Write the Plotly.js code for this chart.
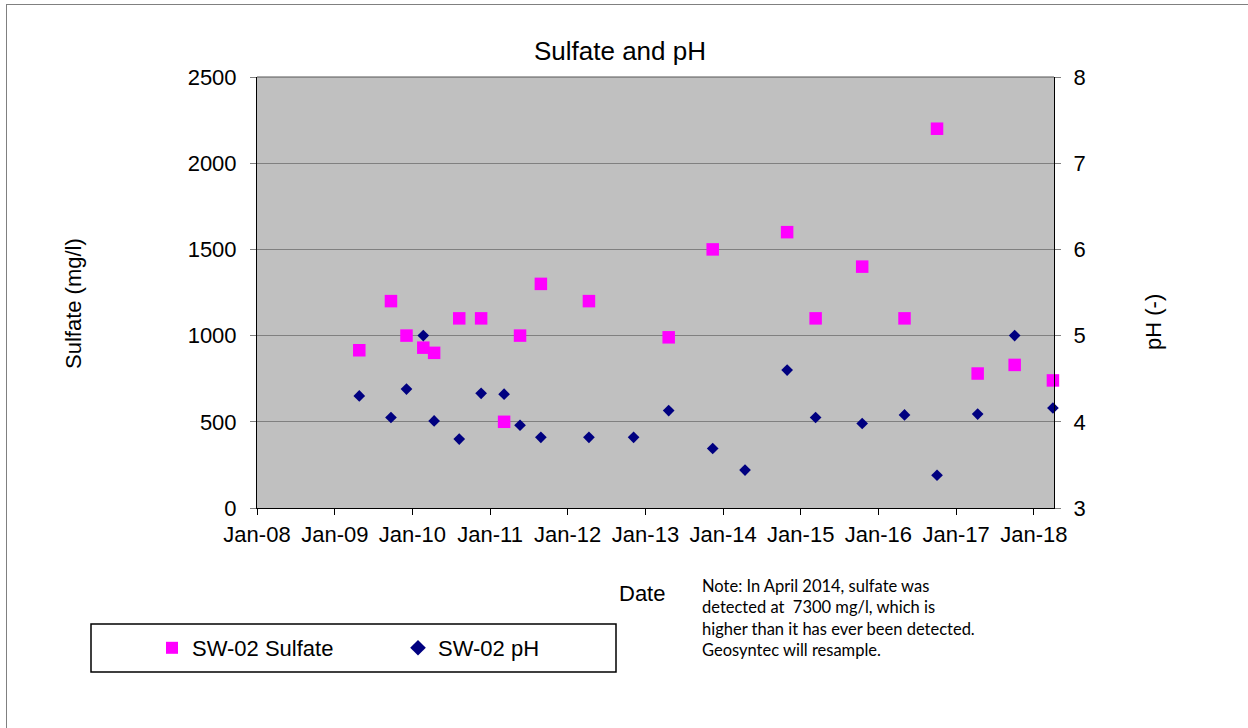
<!DOCTYPE html>
<html>
<head>
<meta charset="utf-8">
<script src="https://cdn.plot.ly/plotly-3.0.1.min.js"></script>
<style>
html, body { margin: 0; padding: 0; background: #ffffff; }
#chart { width: 1248px; height: 728px; }
</style>
</head>
<body>
<div id="chart"></div>
<script>
// Sulfate (mg/l) samples
const sulfateDates = [
  '2009-04-26', '2009-09-22', '2009-12-04', '2010-02-21', '2010-04-13',
  '2010-08-09', '2010-11-20', '2011-03-08', '2011-05-22', '2011-08-28',
  '2012-04-10', '2013-04-20', '2013-11-13', '2014-10-29', '2015-03-12',
  '2015-10-17', '2016-05-03', '2016-10-03', '2017-04-12', '2017-10-03',
  '2018-04-01'
];
const sulfateValues = [
  915, 1200, 1000, 930, 900,
  1100, 1100, 500, 1000, 1300,
  1200, 990, 1500, 1600, 1100,
  1400, 1100, 2200, 780, 830,
  740
];

// pH samples
const phDates = [
  '2009-04-26', '2009-09-22', '2009-12-04', '2010-02-21', '2010-04-13',
  '2010-08-09', '2010-11-20', '2011-03-08', '2011-05-22', '2011-08-28',
  '2012-04-10', '2012-11-06', '2013-04-20', '2013-11-13', '2014-04-14',
  '2014-10-29', '2015-03-12', '2015-10-17', '2016-05-03', '2016-10-03',
  '2017-04-12', '2017-10-03', '2018-04-01'
];
const phValues = [
  4.30, 4.05, 4.38, 5.00, 4.01,
  3.80, 4.33, 4.32, 3.96, 3.82,
  3.82, 3.82, 4.13, 3.69, 3.44,
  4.60, 4.05, 3.98, 4.08, 3.38,
  4.09, 5.00, 4.16
];

const seriesNames = ['SW-02 Sulfate', 'SW-02 pH'];
const chartTitle = 'Sulfate and pH';
const xTitle = 'Date';
const yTitle = 'Sulfate (mg/l)';
const y2Title = 'pH (-)';
const noteLines = [
  'Note: In April 2014, sulfate was',
  'detected at  7300 mg/l, which is',
  'higher than it has ever been detected.',
  'Geosyntec will resample.'
];

const FONT = 'Liberation Sans, Arial, sans-serif';
const FS = 22;

// plot area in pixels
const L = 257, R = 1054, T = 77, B = 508, W = 1248, H = 728;
const pw = R - L, ph = B - T;
const px = x => (x - L) / pw;
const py = y => (B - y) / ph;

const traces = [
  {
    x: sulfateDates, y: sulfateValues, name: seriesNames[0],
    type: 'scatter', mode: 'markers', cliponaxis: false,
    marker: { symbol: 'square', size: 12.5, color: '#FF00FF' }
  },
  {
    x: phDates, y: phValues, name: seriesNames[1], yaxis: 'y2',
    type: 'scatter', mode: 'markers', cliponaxis: false,
    marker: { symbol: 'diamond', size: 9, color: '#000080' }
  }
];

const layout = {
  width: W, height: H,
  margin: { l: L, r: W - R, t: T, b: H - B, pad: 0 },
  paper_bgcolor: '#ffffff',
  plot_bgcolor: '#C0C0C0',
  font: { family: FONT, size: FS, color: '#000000' },
  showlegend: true,
  title: {
    text: chartTitle, font: { family: FONT, size: 26, color: '#000' },
    x: 620 / W, xanchor: 'center', xref: 'container',
    y: 1 - 51 / H, yanchor: 'middle', yref: 'container'
  },
  xaxis: {
    type: 'date',
    range: ['2008-01-01', '2018-04-06'],
    tick0: '2008-01-01', dtick: 'M12', tickformat: '%b-%y',
    ticks: 'outside', ticklen: 6, tickcolor: '#000', tickwidth: 1,
    ticklabelstandoff: 1,
    showline: true, linecolor: '#000', linewidth: 1,
    showgrid: false, zeroline: false,
    tickfont: { family: FONT, size: FS, color: '#000' }
  },
  yaxis: {
    range: [0, 2500], dtick: 500, tick0: 0,
    ticks: 'outside', ticklen: 6, tickcolor: '#808080', tickwidth: 1,
    ticklabelstandoff: 9,
    showline: true, linecolor: '#000', linewidth: 1,
    showgrid: true, gridcolor: '#808080', gridwidth: 1,
    zeroline: false,
    tickfont: { family: FONT, size: FS, color: '#000' }
  },
  yaxis2: {
    overlaying: 'y', side: 'right',
    range: [3, 8], dtick: 1, tick0: 3,
    ticks: 'outside', ticklen: 6, tickcolor: '#808080', tickwidth: 1,
    ticklabelstandoff: 8,
    showline: true, linecolor: '#000', linewidth: 1,
    showgrid: false, zeroline: false,
    tickfont: { family: FONT, size: FS, color: '#000' }
  },
  legend: {
    orientation: 'h',
    x: px(152), xanchor: 'left', xref: 'paper',
    y: py(648), yanchor: 'middle', yref: 'paper',
    bgcolor: 'rgba(0,0,0,0)', borderwidth: 0,
    font: { family: FONT, size: FS, color: '#000' },
    entrywidth: 201, entrywidthmode: 'pixels',
    itemsizing: 'constant'
  },
  shapes: [
    // legend box
    { type: 'rect', xref: 'paper', yref: 'paper',
      x0: px(91), x1: px(616), y0: py(672), y1: py(624),
      line: { color: '#000', width: 1.5 }, fillcolor: 'rgba(0,0,0,0)' },
    // outer chart border (top and left)
    { type: 'line', xref: 'paper', yref: 'paper',
      x0: px(6), x1: px(1260), y0: py(4.5), y1: py(4.5),
      line: { color: '#808080', width: 1 } },
    { type: 'line', xref: 'paper', yref: 'paper',
      x0: px(6.5), x1: px(6.5), y0: py(4), y1: py(740),
      line: { color: '#808080', width: 1 } },
    // top border of plot area
    { type: 'line', xref: 'paper', yref: 'paper',
      x0: 0, x1: 1, y0: 1, y1: 1,
      line: { color: '#555', width: 1 } }
  ],
  annotations: [
    { text: xTitle, xref: 'paper', yref: 'paper', x: px(642), y: py(593),
      xanchor: 'center', yanchor: 'middle', showarrow: false,
      font: { family: FONT, size: FS, color: '#000' } },
    { text: yTitle, xref: 'paper', yref: 'paper', x: px(73), y: py(304),
      xanchor: 'center', yanchor: 'middle', showarrow: false, textangle: -90,
      font: { family: FONT, size: FS, color: '#000' } },
    { text: y2Title, xref: 'paper', yref: 'paper', x: px(1153), y: py(322),
      xanchor: 'center', yanchor: 'middle', showarrow: false, textangle: -90,
      font: { family: FONT, size: FS, color: '#000' } },
    { text: noteLines.join('<br>'), xref: 'paper', yref: 'paper',
      x: px(700), y: py(618), xanchor: 'left', yanchor: 'middle', align: 'left',
      showarrow: false,
      font: { family: 'Lato, Open Sans, sans-serif', size: 16.5, color: '#000' } }
  ]
};

Plotly.newPlot('chart', traces, layout, { displayModeBar: false, staticPlot: true });
</script>
</body>
</html>
